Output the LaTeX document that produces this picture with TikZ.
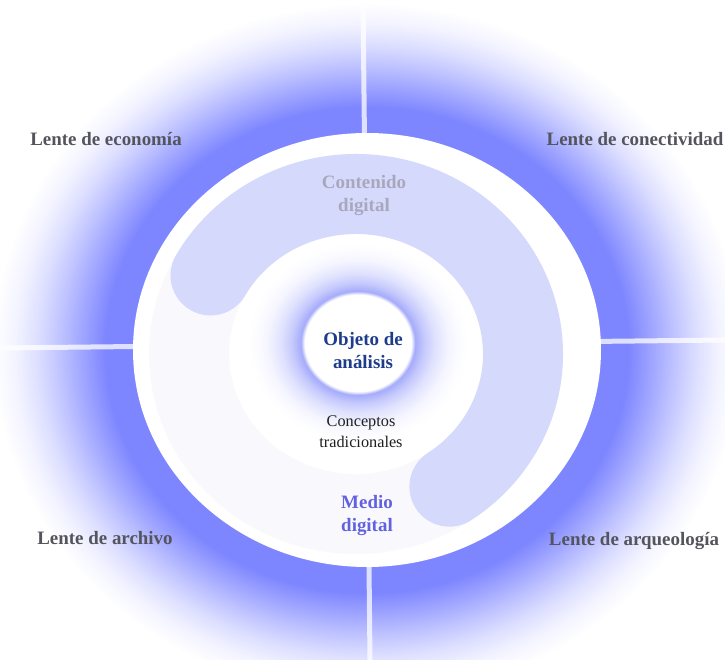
\documentclass[tikz,border=0pt]{standalone}
\usepackage{fontspec}
\setmainfont{Liberation Serif}
\definecolor{glowblue}{RGB}{126,134,255}
\definecolor{ringblue}{RGB}{150,157,250}
\definecolor{bandlav}{RGB}{213,217,252}
\definecolor{bandfaint}{RGB}{249,249,253}
\definecolor{lensgray}{RGB}{84,84,92}
\definecolor{contgray}{RGB}{168,168,188}
\definecolor{objblue}{RGB}{30,60,140}
\definecolor{mediopurple}{RGB}{98,98,222}
\pgfdeclareradialshading{outerglow}{\pgfpoint{0bp}{0bp}}{color(0bp)=(glowblue); color(17.5bp)=(glowblue); color(19bp)=(glowblue!75!white); color(20.5bp)=(glowblue!50!white); color(22bp)=(glowblue!27!white); color(23.5bp)=(glowblue!10!white); color(25bp)=(white); color(50bp)=(white)}
\pgfdeclareradialshading{innerglow}{\pgfpoint{0bp}{0bp}}{color(0bp)=(white); color(12.1bp)=(white); color(13bp)=(ringblue!85!white); color(15bp)=(ringblue!55!white); color(17.5bp)=(ringblue!30!white); color(20.5bp)=(ringblue!11!white); color(23bp)=(ringblue!3!white); color(25bp)=(white); color(50bp)=(white)}
\begin{document}
\begin{tikzpicture}[x=0.75pt, y=-0.75pt,
    lens/.style={font=\fontsize{14.2}{17.25}\selectfont\bfseries, text=lensgray, anchor=base, inner sep=0pt},
    tag/.style={font=\fontsize{14.2}{17.25}\selectfont\bfseries, align=center, inner sep=0pt},
    crossline/.style={white, opacity=0.75, line width=3.75pt},
    band/.style={line width=60pt, line cap=round, bandlav}]
    \useasboundingbox (0,0) rectangle (725,660);

    \shade[shading=outerglow] (367,350) ellipse [x radius=374, y radius=347];

    \coordinate (top) at (363,0);
    \coordinate (bot) at (370,660);
    \coordinate (lft) at (0,348);
    \coordinate (rgt) at (725,340);
    \draw[crossline] (top) -- (bot);
    \draw[crossline] (lft) -- (rgt);

    \fill[white] (367,350) ellipse [x radius=234, y radius=217];
    \draw[line width=60pt, bandfaint] (356,354) ++(56:167 and 160) arc[start angle=56, end angle=209.4, x radius=167, y radius=160];
    \draw[band] (356,354) ++(-150.6:167 and 160) arc[start angle=-150.6, end angle=56, x radius=167, y radius=160];
    \shade[shading=innerglow] (358,343) ellipse [x radius=110, y radius=100];

    \node[lens] (econ) at (106,145) {Lente de economía};
    \node[lens] (conect) at (635,145) {Lente de conectividad};
    \node[lens] (archivo) at (105,544) {Lente de archivo};
    \node[lens] (arqueo) at (634,545) {Lente de arqueología};

    \node[tag, text=contgray] (contenido) at (364,196) {Contenido\\digital};
    \node[tag, text=objblue] (objeto) at (363,351) {Objeto de\\análisis};
    \node[tag, font=\fontsize{12.2}{15.5}\selectfont, text=black!88] (conceptos) at (361,432) {Conceptos\\tradicionales};
    \node[tag, text=mediopurple] (medio) at (367,516) {Medio\\digital};
\end{tikzpicture}
\end{document}
